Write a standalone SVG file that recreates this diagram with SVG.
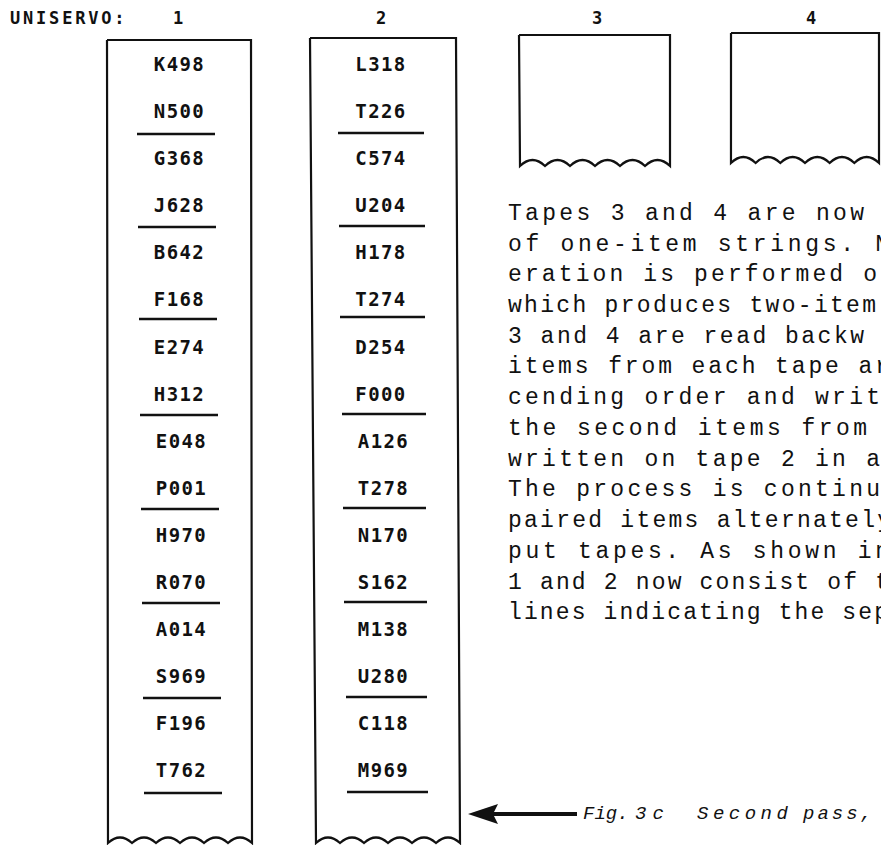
<svg xmlns="http://www.w3.org/2000/svg" width="881" height="845" viewBox="0 0 881 845">
<style>
.tape{fill:none;stroke:#111;stroke-width:2.2;stroke-linejoin:miter}
.item{font-family:"DejaVu Sans Mono",monospace;font-weight:bold;font-size:19px;letter-spacing:1.4px;text-anchor:middle;fill:#111}
.sep{stroke:#111;stroke-width:2.6}
.hdr{font-family:"DejaVu Sans Mono",monospace;font-weight:bold;font-size:17px;fill:#111}
.num{text-anchor:middle}
.para{font-family:"Liberation Mono",monospace;font-size:23px;fill:#111}
.cap{font-family:"Liberation Mono",monospace;font-style:italic;font-size:19px;fill:#111}
.conn{stroke:#111;stroke-width:4;fill:none}
</style>
<defs>
<marker id="head" markerUnits="userSpaceOnUse" markerWidth="32" markerHeight="22" refX="8" refY="10" orient="auto" viewBox="0 0 32 22" overflow="visible">
<path d="M0,0 L30,10 L0,20 L5,10 Z" fill="#111"/>
</marker>
</defs>
<rect width="881" height="845" fill="#fff"/>

<g id="header">
<text class="hdr" x="10" y="24" letter-spacing="2.8">UNISERVO:</text>
<text class="hdr num" x="178" y="24">1</text>
<text class="hdr num" x="381" y="24">2</text>
<text class="hdr num" x="597" y="24">3</text>
<text class="hdr num" x="811" y="24">4</text>
</g>

<g id="tape1">
<path class="tape" d="M107,40 H251 L252,843 q-12,-11 -24,0 q-12,-11 -24,0 q-12,-11 -24,0 q-12,-11 -24,0 q-12,-11 -24,0 q-12,-11 -24,0 L107,40"/>
<text class="item" x="179.5" y="71">K498</text>
<text class="item" x="179.5" y="118">N500</text>
<text class="item" x="179.5" y="165">G368</text>
<text class="item" x="179.5" y="212">J628</text>
<text class="item" x="179.5" y="259">B642</text>
<text class="item" x="179.5" y="306">F168</text>
<text class="item" x="179.5" y="354">E274</text>
<text class="item" x="179.5" y="401">H312</text>
<text class="item" x="181.5" y="448">E048</text>
<text class="item" x="181.5" y="495">P001</text>
<text class="item" x="181.5" y="542">H970</text>
<text class="item" x="181.5" y="589">R070</text>
<text class="item" x="181.5" y="636">A014</text>
<text class="item" x="181.5" y="683">S969</text>
<text class="item" x="181.5" y="730">F196</text>
<text class="item" x="181.5" y="777">T762</text>
<line class="sep" x1="137" y1="134" x2="215" y2="134"/>
<line class="sep" x1="138" y1="227" x2="216" y2="227"/>
<line class="sep" x1="139" y1="319" x2="217" y2="319"/>
<line class="sep" x1="140" y1="415" x2="218" y2="415"/>
<line class="sep" x1="141" y1="509" x2="219" y2="509"/>
<line class="sep" x1="142" y1="603" x2="220" y2="603"/>
<line class="sep" x1="143" y1="698" x2="221" y2="698"/>
<line class="sep" x1="144" y1="793" x2="222" y2="793"/>
</g>

<g id="tape2">
<path class="tape" d="M310,38 H456 L460,843 q-12,-11 -24,0 q-12,-11 -24,0 q-12,-11 -24,0 q-12,-11 -24,0 q-12,-11 -24,0 q-12,-11 -24,0 L310,38"/>
<text class="item" x="381" y="71">L318</text>
<text class="item" x="381" y="118">T226</text>
<text class="item" x="381" y="165">C574</text>
<text class="item" x="381" y="212">U204</text>
<text class="item" x="381" y="259">H178</text>
<text class="item" x="381" y="306">T274</text>
<text class="item" x="381" y="354">D254</text>
<text class="item" x="381" y="401">F000</text>
<text class="item" x="383.5" y="448">A126</text>
<text class="item" x="383.5" y="495">T278</text>
<text class="item" x="383.5" y="542">N170</text>
<text class="item" x="383.5" y="589">S162</text>
<text class="item" x="383.5" y="636">M138</text>
<text class="item" x="383.5" y="683">U280</text>
<text class="item" x="383.5" y="730">C118</text>
<text class="item" x="383.5" y="777">M969</text>
<line class="sep" x1="338" y1="133" x2="424" y2="133"/>
<line class="sep" x1="339" y1="226" x2="425" y2="226"/>
<line class="sep" x1="340" y1="317" x2="425" y2="317"/>
<line class="sep" x1="342" y1="414" x2="426" y2="414"/>
<line class="sep" x1="343" y1="508" x2="426" y2="508"/>
<line class="sep" x1="344" y1="602" x2="427" y2="602"/>
<line class="sep" x1="346" y1="697" x2="427" y2="697"/>
<line class="sep" x1="347" y1="792" x2="428" y2="792"/>
</g>

<g id="tape3">
<path class="tape" d="M519,35 H670 L670,166 q-12.5,-12 -25,0 q-12.5,-12 -25,0 q-12.5,-12 -25,0 q-12.5,-12 -25,0 q-12.5,-12 -25,0 q-12.5,-12 -25,0 L519,35"/>
</g>

<g id="tape4">
<path class="tape" d="M731,33 H879 L879,163 q-12.33,-12 -24.67,0 q-12.33,-12 -24.67,0 q-12.33,-12 -24.67,0 q-12.33,-12 -24.67,0 q-12.33,-12 -24.67,0 q-12.33,-12 -24.67,0 L731,33"/>
</g>

<g id="paragraph">
<text class="para" x="508" y="220" textLength="356" lengthAdjust="spacing">Tapes 3 and 4 are now</text>
<text class="para" x="508" y="251" textLength="381" lengthAdjust="spacing">of one-item strings.  N</text>
<text class="para" x="508" y="281" textLength="369" lengthAdjust="spacing">eration is performed o</text>
<text class="para" x="508" y="312" textLength="368" lengthAdjust="spacing">which produces two-item</text>
<text class="para" x="508" y="343" textLength="356" lengthAdjust="spacing">3 and 4 are read backw</text>
<text class="para" x="508" y="373" textLength="381" lengthAdjust="spacing">items from each tape ar</text>
<text class="para" x="508" y="404" textLength="372" lengthAdjust="spacing">cending order and writ</text>
<text class="para" x="508" y="435" textLength="359" lengthAdjust="spacing">the second items from</text>
<text class="para" x="508" y="466" textLength="372" lengthAdjust="spacing">written on tape 2 in a</text>
<text class="para" x="508" y="496" textLength="372" lengthAdjust="spacing">The process is continu</text>
<text class="para" x="508" y="527" textLength="383" lengthAdjust="spacing">paired items alternately</text>
<text class="para" x="508" y="558" textLength="381" lengthAdjust="spacing">put tapes.  As shown in</text>
<text class="para" x="508" y="589" textLength="381" lengthAdjust="spacing">1 and 2 now consist of t</text>
<text class="para" x="508" y="619" textLength="380" lengthAdjust="spacing">lines indicating the sep</text>
</g>

<g id="connectors">
<line class="conn" x1="577" y1="814" x2="490" y2="814" marker-end="url(#head)"/>
</g>

<g id="caption">
<text class="cap" y="819"><tspan x="583">Fig.</tspan><tspan x="635" letter-spacing="6">3c</tspan><tspan x="697" letter-spacing="4.5">Second</tspan><tspan x="803" letter-spacing="3">pass,</tspan></text>
</g>
</svg>
